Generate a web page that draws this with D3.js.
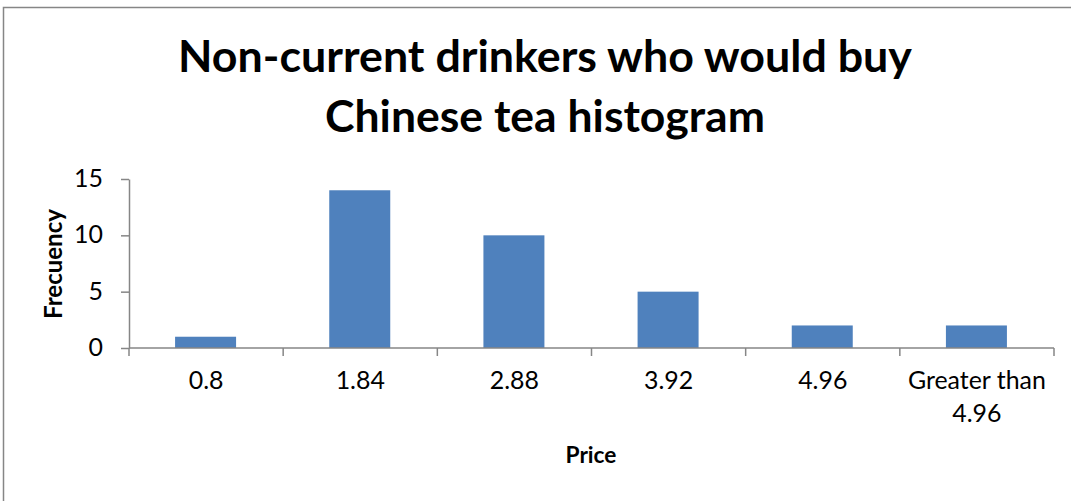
<!DOCTYPE html>
<html><head><meta charset="utf-8">
<script src="https://cdn.jsdelivr.net/npm/d3@7"></script>
<style>body{margin:0;background:#fff}svg{display:block}text{font-family:Lato,"Open Sans",sans-serif}</style>
</head><body>
<svg id="c" width="1071" height="501"></svg>
<script>
const categories = ["0.8","1.84","2.88","3.92","4.96","Greater than|4.96"];
const frequency = [1,14,10,5,2,2];
const yTicks = [0,5,10,15];
const titleLines = ["Non-current drinkers who would buy","Chinese tea histogram"];

const svg = d3.select("#c");
svg.append("rect").attr("x",3.5).attr("y",7.5).attr("width",1080).attr("height",520)
  .attr("fill","#fff").attr("stroke","#868686").attr("stroke-width",1.5);

// scale a text node's font-size so that its width matches target
function fit(sel, target){
  const n=sel.node(); const w=n.getComputedTextLength();
  const fs=parseFloat(sel.attr("font-size"));
  sel.attr("font-size", fs*target/w);
  return fs*target/w;
}

const plotL=129, plotR=1054, plotT=179, plotB=348;
const xb = d3.scaleBand().domain(categories).range([plotL,plotR]);
const y = d3.scaleLinear().domain([0,15]).range([plotB,plotT]);

svg.selectAll("rect.bar").data(frequency).join("rect").attr("class","bar")
  .attr("x",(d,i)=>xb(categories[i])+xb.bandwidth()/2-31)
  .attr("width",61)
  .attr("y",d=>y(d)).attr("height",d=>y(0)-y(d)).attr("fill","#4f81bd");

const probe = svg.append("text").attr("font-size",20).text("Greater than");
const labelFs = fit(probe, 138);
probe.remove();

const axisColor="#868686";
const ya = svg.append("g").attr("transform",`translate(${plotL},0)`)
  .call(d3.axisLeft(y).tickValues(yTicks).tickSize(8).tickSizeOuter(0).tickPadding(18));
ya.selectAll("path,line").attr("stroke",axisColor).attr("stroke-width",1.5);
ya.selectAll("text").attr("font-size",labelFs).attr("fill","#000").attr("font-family","Lato, sans-serif").attr("dy","0.3em");

const xa = svg.append("g").attr("transform",`translate(0,${plotB})`);
xa.append("line").attr("x1",plotL).attr("x2",plotR).attr("stroke",axisColor).attr("stroke-width",1.5);
const bounds = categories.map(c=>xb(c)).concat([plotR]);
xa.selectAll("line.t").data(bounds).join("line").attr("class","t")
  .attr("x1",d=>d).attr("x2",d=>d).attr("y1",0).attr("y2",8).attr("stroke",axisColor).attr("stroke-width",1.5);
categories.forEach(c=>{
  const parts=c.split("|");
  const cx=xb(c)+xb.bandwidth()/2;
  const t=xa.append("text").attr("x",cx).attr("y",41)
    .attr("text-anchor","middle").attr("font-size",labelFs).attr("fill","#000");
  parts.forEach((p,j)=>t.append("tspan").attr("x",cx).attr("dy",j?33:0).text(p));
});

const px = svg.append("text").attr("x",591).attr("y",463).attr("text-anchor","middle")
  .attr("font-size",20).attr("font-weight","bold").text("Price");
fit(px, 51);
const fy = svg.append("text").attr("transform","translate(62,264) rotate(-90)").attr("text-anchor","middle")
  .attr("font-size",20).attr("font-weight","bold").text("Frecuency");
fit(fy, 110);

const titleW=[734,440];
titleLines.forEach((l,i)=>{
  const t=svg.append("text").attr("x",545).attr("y",72+i*60).attr("text-anchor","middle")
    .attr("font-size",40).attr("font-weight","bold").text(l);
  fit(t,titleW[i]);
});
</script>
</body></html>
